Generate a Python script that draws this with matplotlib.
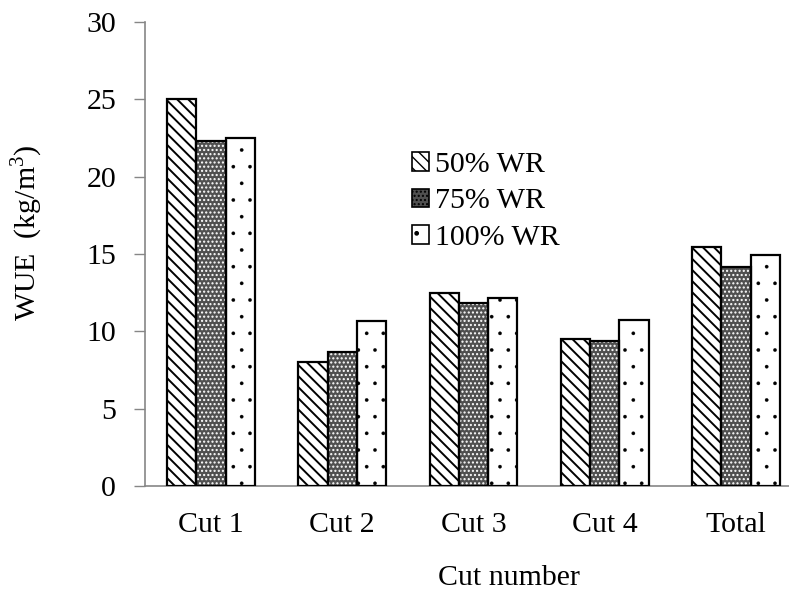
import matplotlib
matplotlib.use("Agg")
import matplotlib.pyplot as plt
import numpy as np
from matplotlib.patches import Patch

categories = ["Cut 1", "Cut 2", "Cut 3", "Cut 4", "Total"]
series_labels = ["50% WR", "75% WR", "100% WR"]
wr50 = [25.0, 8.05, 12.5, 9.48, 15.45]
wr75 = [22.3, 8.68, 11.85, 9.39, 14.18]
wr100 = [22.5, 10.67, 12.17, 10.71, 14.93]
yticks = [0, 5, 10, 15, 20, 25, 30]

plt.rcParams['font.family'] = ['Liberation Serif', 'DejaVu Serif']
plt.rcParams['mathtext.fontset'] = 'custom'
plt.rcParams['mathtext.rm'] = 'Liberation Serif'

FS = 21.5

fig = plt.figure(figsize=(7.89, 5.94), dpi=100)
ax = fig.add_axes([0.1843, 0.1818, 0.8317, 0.7811])

x = np.arange(len(categories))
w = 0.2225
styles = [
    dict(face='white', hatch='\\\\\\', hcol='black', hlw=1.4),
    dict(face='#505050', hatch='....', hcol='white', hlw=1.0),
    dict(face='white', hatch='.', hcol='black', hlw=0.2),
]
for k, vals in enumerate([wr50, wr75, wr100]):
    st = styles[k]
    pos = x + (k - 1) * w
    with plt.rc_context({'hatch.linewidth': st['hlw']}):
        ax.bar(pos, vals, w, color=st['face'], edgecolor=st['hcol'], hatch=st['hatch'], linewidth=0, zorder=2)
    ax.bar(pos, vals, w, facecolor='none', edgecolor='black', linewidth=1.6, zorder=3)

ax.set_xlim(-0.5, len(categories) - 0.5)
ax.set_ylim(0, 30)
ax.set_yticks(yticks)
ax.set_xticks(x)
ax.set_xticklabels(categories)
ax.tick_params(axis='x', length=0, pad=19, labelsize=FS)
ax.tick_params(axis='y', length=8, width=1, color='#868686', direction='out', pad=13, labelsize=FS)
for s in ['top', 'right']:
    ax.spines[s].set_visible(False)
for s in ['left', 'bottom']:
    ax.spines[s].set_color('#868686')
    ax.spines[s].set_linewidth(1.2)

ax.set_xlabel("Cut number", fontsize=FS, va='center')
ax.xaxis.set_label_coords((509 - 145.4) / 656.25, -0.198)
ax.set_ylabel("WUE  (kg/m$^3$)", fontsize=FS, va='center', ha='center')
ax.yaxis.set_label_coords(-0.181, 0.547)

handles = []
for k, st in enumerate(styles):
    with plt.rc_context({'hatch.linewidth': st['hlw']}):
        handles.append(Patch(facecolor=st['face'], edgecolor='black', hatch=st['hatch'], linewidth=1.2))
leg = ax.legend(handles, series_labels, loc='upper left', bbox_to_anchor=(412 / 789, 1 - 152 / 594),
                bbox_transform=fig.transFigure, frameon=False, fontsize=FS,
                handlelength=0.57, handleheight=0.57, handletextpad=0.2, labelspacing=0.35,
                borderpad=0, borderaxespad=0)

fig.savefig("out.png", dpi=100)
